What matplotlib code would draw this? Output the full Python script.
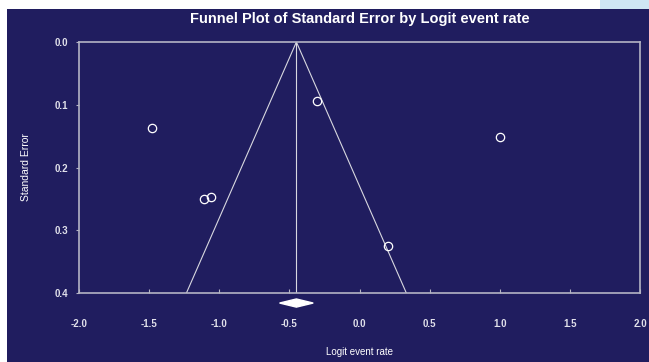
import numpy as np
import matplotlib.pyplot as plt
from matplotlib.patches import Rectangle, Polygon

plt.rcParams['font.family'] = ['Liberation Sans', 'DejaVu Sans']

# study estimates (logit event rate, standard error)
logit_rate = [-1.48, -1.11, -1.06, -0.30, 0.20, 1.00]
std_err = [0.137, 0.250, 0.247, 0.094, 0.325, 0.151]

pooled = -0.45
ci_low, ci_high = -0.57, -0.33
se_max = 0.4

x_ticks = [-2.0, -1.5, -1.0, -0.5, 0.0, 0.5, 1.0, 1.5, 2.0]
y_ticks = [0.0, 0.1, 0.2, 0.3, 0.4]

navy = '#201d5f'
frame = '#b4b4c4'

fig = plt.figure(figsize=(6.49, 3.62), dpi=100)
fig.patch.set_facecolor('white')
# navy panel and light-blue decoration at the top right
fig.patches.append(Rectangle((7/649, 0), 1, 1 - 9/362, transform=fig.transFigure,
                             facecolor=navy, edgecolor='none', zorder=-5))
fig.patches.append(Rectangle((600/649, 1 - 9/362), 49/649, 9/362, transform=fig.transFigure,
                             facecolor='#cfe6f4', edgecolor='none', zorder=-5))

ax = fig.add_axes([79/649, 1 - 293/362, 561/649, 251/362])
ax.set_facecolor(navy)
ax.set_xlim(-2, 2)
ax.set_ylim(se_max, 0)

# funnel
ax.plot([pooled - 1.96*se_max, pooled, pooled + 1.96*se_max], [se_max, 0, se_max],
        color='#d8d8e0', lw=0.8)
ax.axvline(pooled, color='#d8d8e0', lw=0.8)

ax.plot(logit_rate, std_err, 'o', mfc='none', mec='white', ms=6, mew=0.9)

# pooled estimate diamond under the axis
dy = 0.016
hh = 0.0065
diamond = Polygon([[ci_low, se_max + dy], [pooled, se_max + dy - hh],
                   [ci_high, se_max + dy], [pooled, se_max + dy + hh]],
                  closed=True, facecolor='white', edgecolor='white', clip_on=False)
ax.add_patch(diamond)

for s in ax.spines.values():
    s.set_color(frame)
    s.set_linewidth(1.2)

ax.set_xticks(x_ticks)
ax.set_xticklabels([f'{v:.1f}' for v in x_ticks])
ax.set_yticks(y_ticks)
ax.set_yticklabels([f'{v:.1f}' for v in y_ticks])
ax.tick_params(axis='x', direction='in', length=3, color=frame, pad=19,
               labelsize=7, labelcolor='#e0e0ea')
ax.tick_params(axis='y', direction='out', length=2, color=frame, pad=6,
               labelsize=7, labelcolor='#e0e0ea')
for lab in ax.get_xticklabels() + ax.get_yticklabels():
    lab.set_fontweight('bold')

ax.set_xlabel('Logit event rate', color='white', fontsize=7, labelpad=13)
ax.set_ylabel('Standard Error', color='white', fontsize=7.5, labelpad=17)
fig.text(359.5/649, 1 - 19/362, 'Funnel Plot of Standard Error by Logit event rate',
         ha='center', va='center', color='white', fontsize=10.5, fontweight='bold')

fig.savefig('out.png', dpi=100, facecolor=fig.get_facecolor())
